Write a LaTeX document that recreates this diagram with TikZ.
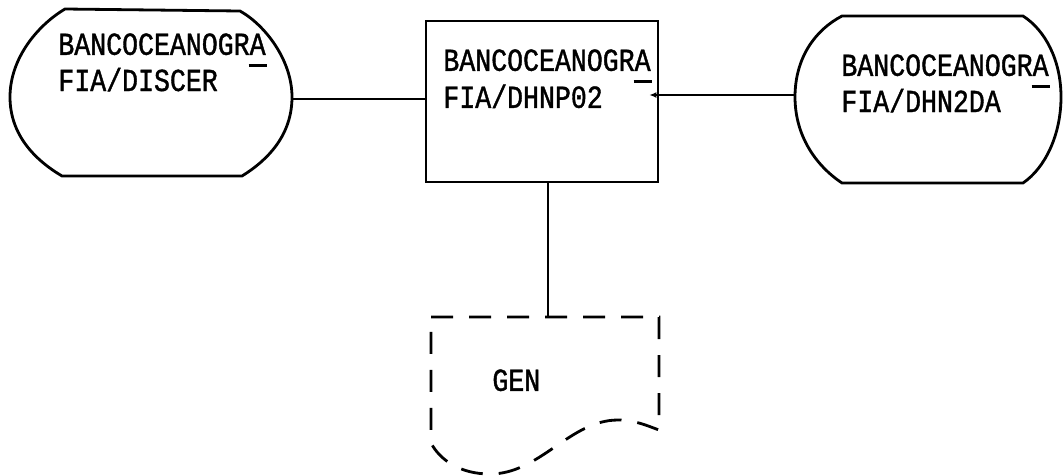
\documentclass[tikz,border=0pt]{standalone}
\usepackage{fontspec}
\newfontfamily\scanfont[FakeStretch=0.83,FakeBold=1.2]{Liberation Mono}
\usetikzlibrary{arrows.meta}
\newcommand{\hyphA}{\makebox[0pt][l]{\hspace{-1pt}\rule[-12pt]{18pt}{2.5pt}}A}

\begin{document}
\begin{tikzpicture}[x=1pt,y=-1pt,line width=2.8pt,
        dbtext/.style={anchor=north west,inner sep=0pt,align=left,
            font=\scanfont\fontsize{32pt}{34pt}\selectfont},
        docu/.style={dash pattern=on 22pt off 16pt}]
    \useasboundingbox (0,0) rectangle (1064,475);

    \draw (65,9) -- (240,11) .. controls (265,25) and (292,60) .. (292,97)
        .. controls (292,135) and (268,160) .. (242,176) -- (62,176)
        .. controls (35,160) and (10,135) .. (10,97)
        .. controls (10,58) and (38,25) .. (65,9) -- cycle;
    \coordinate (discerE) at (292,99);
    \node[dbtext] (discer) at (57,32) {BANCOCEANOGR\hyphA\\FIA/DISCER};

    \node[draw,minimum width=232pt,minimum height=161pt,inner sep=0pt] (dhnp) at (542,101.5) {};
    \node[dbtext,font=\scanfont\fontsize{32pt}{37pt}\selectfont] (dhnptxt) at (442,48)
        {BANCOCEANOGR\hyphA\\FIA/DHNP02};

    \draw (842,16) -- (1023,16) .. controls (1045,30) and (1061,60) .. (1061,97)
        .. controls (1061,135) and (1045,168) .. (1023,183) -- (842,183)
        .. controls (815,165) and (795,135) .. (795,97)
        .. controls (795,58) and (815,30) .. (842,16) -- cycle;
    \coordinate (dhn2daW) at (795,95);
    \node[dbtext] (dhn2da) at (840,53) {BANCOCEANOGR\hyphA\\FIA/DHN2DA};

    \coordinate (gentop) at (548,317);
    \draw[docu] (431,317) -- (659,317) -- (659,430)
        .. controls (648,426) and (635,420) .. (618,420)
        .. controls (570,420) and (540,474) .. (490,474)
        .. controls (460,474) and (440,460) .. (431,443) -- cycle;
    \node[dbtext] (gen) at (491,368) {GEN};

    \draw (discerE) -- (dhnp.west |- discerE);
    \draw[-{Latex[length=7pt,width=6pt]},shorten >=-10pt] (dhn2daW) -- (dhnp.east |- dhn2daW);
    \draw (gentop |- dhnp.south) -- (gentop);
\end{tikzpicture}
\end{document}
